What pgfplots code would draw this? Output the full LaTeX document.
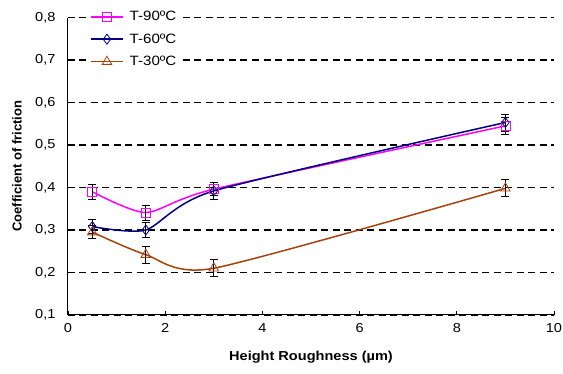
\documentclass[border=0pt]{standalone}
\usepackage{pgfplots}
\pgfplotsset{compat=1.18}
\usepackage{fontspec}
\setmainfont{Liberation Sans}[FakeStretch=1.12]
\newfontfamily\plainsans{Liberation Sans}
\definecolor{cmag}{HTML}{FF00FF}
\definecolor{cnavy}{HTML}{000080}
\definecolor{cbrown}{HTML}{A8420C}
\begin{document}
\begin{tikzpicture}
\path[use as bounding box] (-68pt,-59pt) rectangle (495pt,315pt);
\begin{axis}[
  scale only axis,
  width=486pt, height=297.5pt,
  xmin=0, xmax=10, ymin=0.1, ymax=0.8,
  xtick={0,2,4,6,8,10},
  ytick={0.1,0.2,0.3,0.4,0.5,0.6,0.7,0.8},
  axis x line*=bottom, axis y line*=left,
  axis line style={black, line width=1pt, -},
  tick align=inside,
  major tick length=4pt,
  tick style={black, line width=0.8pt},
  ymajorgrids,
  major grid style={black, line width=1.6pt, dash pattern=on 7pt off 4.5pt},
  /pgf/number format/assume math mode=true,
  yticklabel style={/pgf/number format/fixed, /pgf/number format/fixed zerofill, /pgf/number format/precision=1, /pgf/number format/use comma, xshift=-9pt},
  xticklabel style={/pgf/number format/fixed, /pgf/number format/precision=0, yshift=-5pt},
  ticklabel style={font=\fontsize{13}{15}\selectfont},
  xlabel={Height Roughness (µm)},
  ylabel={Coefficient of friction},
  xlabel style={font=\fontsize{13}{15}\selectfont\bfseries, at={(axis description cs:0.5,-0.141)}, anchor=center},
  ylabel style={font=\fontsize{13}{15}\selectfont\plainsans\bfseries, at={(axis description cs:-0.105,0.5)}, anchor=center},
  legend cell align=left,
  legend style={at={(rel axis cs:0.037,1.035)}, anchor=north west, draw=none, fill=white,
     font=\fontsize{13.5}{16}\selectfont, row sep=7.5pt, inner xsep=4pt, inner ysep=2pt,
     /tikz/every odd column/.append style={column sep=4pt}},
  legend image code/.code={\draw[mark repeat=2,mark phase=2] plot coordinates {(0pt,0pt) (16pt,0pt) (32pt,0pt)};},
  error bars/error bar style={black, line width=0.7pt},
  error bars/error mark options={black, rotate=90, mark size=4pt, line width=0.7pt},
]
\addplot+[cmag, line width=1.5pt, smooth, tension=0.4, mark=square, mark size=4.5pt, mark options={fill=white, line width=0.8pt, solid},
  error bars/.cd, y dir=both, y explicit]
  coordinates {(0.5,0.390) +- (0,0.018) (1.6,0.341) +- (0,0.018) (3,0.396) +- (0,0.015) (9,0.545) +- (0,0.02)};
\addlegendentry{T-90ºC}
\addplot+[cnavy, line width=1.5pt, smooth, tension=0.4, mark=diamond, mark size=5pt, mark options={fill=white, line width=0.8pt, solid},
  error bars/.cd, y dir=both, y explicit]
  coordinates {(0.5,0.308) +- (0,0.017) (1.6,0.300) +- (0,0.018) (3,0.392) +- (0,0.02) (9,0.553) +- (0,0.02)};
\addlegendentry{T-60ºC}
\addplot+[cbrown, line width=1.5pt, smooth, tension=0.4, mark=triangle, mark size=5.5pt, mark options={fill=white, line width=0.8pt, solid},
  error bars/.cd, y dir=both, y explicit]
  coordinates {(0.5,0.295) +- (0,0.015) (1.6,0.242) +- (0,0.02) (3,0.210) +- (0,0.02) (9,0.398) +- (0,0.02)};
\addlegendentry{T-30ºC}
\end{axis}
\end{tikzpicture}
\end{document}
